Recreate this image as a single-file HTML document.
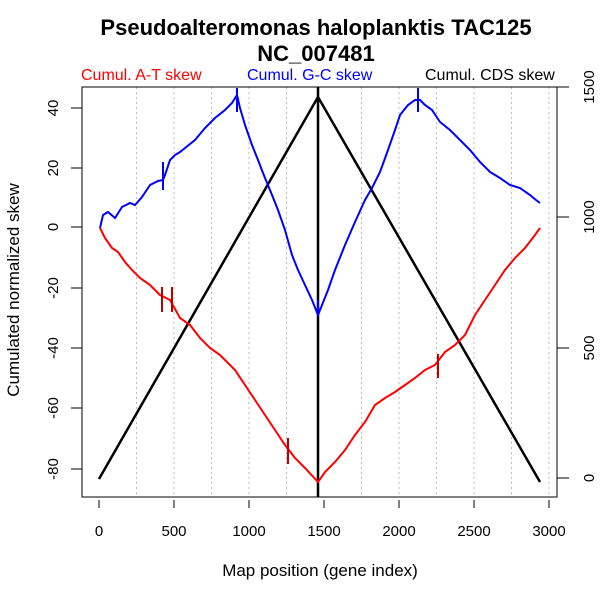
<!DOCTYPE html>
<html><head><style>body{margin:0;background:#fff}svg{display:block}</style></head><body>
<svg width="600" height="600" xmlns="http://www.w3.org/2000/svg" font-family="Liberation Sans, sans-serif">
<rect width="600" height="600" fill="#fff"/>
<text x="316" y="35" font-size="22" font-weight="bold" text-anchor="middle">Pseudoalteromonas haloplanktis TAC125</text>
<text x="316" y="61" font-size="22" font-weight="bold" text-anchor="middle">NC_007481</text>
<text x="81" y="80" font-size="16" fill="#f00">Cumul. A-T skew</text>
<text x="247" y="80" font-size="16" fill="#00f">Cumul. G-C skew</text>
<text x="425" y="80" font-size="16" fill="#000">Cumul. CDS skew</text>
<g stroke="#bbb" stroke-dasharray="2,3" stroke-width="1">
<line x1="136.5" y1="87" x2="136.5" y2="497"/><line x1="174" y1="87" x2="174" y2="497"/><line x1="211.5" y1="87" x2="211.5" y2="497"/><line x1="249" y1="87" x2="249" y2="497"/><line x1="286.5" y1="87" x2="286.5" y2="497"/><line x1="361.5" y1="87" x2="361.5" y2="497"/><line x1="399" y1="87" x2="399" y2="497"/><line x1="436.5" y1="87" x2="436.5" y2="497"/><line x1="474" y1="87" x2="474" y2="497"/><line x1="511.5" y1="87" x2="511.5" y2="497"/><line x1="549" y1="87" x2="549" y2="497"/>
</g>
<rect x="82" y="87" width="475" height="410" fill="none" stroke="#000"/>
<g stroke="#000" fill="none">
<path d="M99,500v8M174,500v8M249,500v8M324,500v8M399,500v8M474,500v8M549,500v8"/>
<path d="M71,108h11M71,168h11M71,227h11M71,288h11M71,348h11M71,408h11M71,469h11"/>
<path d="M557,87h12M557,217h12M557,348h12M557,478h12"/>
</g>
<g font-size="15" text-anchor="middle">
<text x="99" y="536">0</text><text x="174" y="536">500</text><text x="249" y="536">1000</text><text x="324" y="536">1500</text><text x="399" y="536">2000</text><text x="474" y="536">2500</text><text x="549" y="536">3000</text>
</g>
<g font-size="15" text-anchor="middle">
<text transform="translate(58,108) rotate(-90)">40</text>
<text transform="translate(58,168) rotate(-90)">20</text>
<text transform="translate(58,227) rotate(-90)">0</text>
<text transform="translate(58,288) rotate(-90)">-20</text>
<text transform="translate(58,348) rotate(-90)">-40</text>
<text transform="translate(58,408) rotate(-90)">-60</text>
<text transform="translate(58,469) rotate(-90)">-80</text>
<text transform="translate(594,87) rotate(-90)">1500</text>
<text transform="translate(594,217) rotate(-90)">1000</text>
<text transform="translate(594,348) rotate(-90)">500</text>
<text transform="translate(594,478) rotate(-90)">0</text>
</g>
<text x="320" y="576" font-size="17" text-anchor="middle">Map position (gene index)</text>
<text transform="translate(19,290) rotate(-90)" font-size="17" text-anchor="middle">Cumulated normalized skew</text>
<path d="M99,479L318,97L540,482" stroke="#000" stroke-width="2.5" fill="none"/>
<line x1="318" y1="87" x2="318" y2="497" stroke="#000" stroke-width="2.5"/>
<polyline fill="none" stroke="#00f" stroke-width="2" points="100,228 103,215 108,212 115,218 122,207 130,203 135,205 142,197 150,185 158,181 163,180 165,175 170,160 175,155 180,152 185,148 195,140 205,128 215,118 225,110 232,103 237,95 240,108 245,125 252,145 258,160 265,178 270,190 278,210 285,230 292,255 298,270 305,285 312,300 318,315 322,305 328,290 335,270 345,245 355,222 365,200 372,188 380,172 388,150 395,130 400,115 408,105 415,100 420,100 425,105 432,110 440,122 450,130 460,140 470,150 480,162 490,172 500,178 510,185 520,188 530,195 536,200 540,203"/>
<g stroke="#00f" stroke-width="2"><path d="M163,162v28M237,88v24M418,88v24M318,300v16"/></g>
<polyline fill="none" stroke="#f00" stroke-width="2" points="100,228 105,238 112,248 118,252 125,262 132,270 140,278 150,285 160,295 170,300 180,318 190,325 200,338 210,348 220,355 235,370 245,385 255,400 265,415 275,430 285,445 295,458 305,468 318,482 325,472 335,462 345,450 355,435 365,422 375,405 385,398 395,392 405,385 415,378 425,370 435,365 445,352 455,345 465,335 475,315 485,300 495,285 505,270 515,258 525,248 535,235 540,228"/>
<g stroke="#b00" stroke-width="2"><path d="M162,287v25M172,287v25M288,438v26M438,354v24"/></g>
</svg>
</body></html>
